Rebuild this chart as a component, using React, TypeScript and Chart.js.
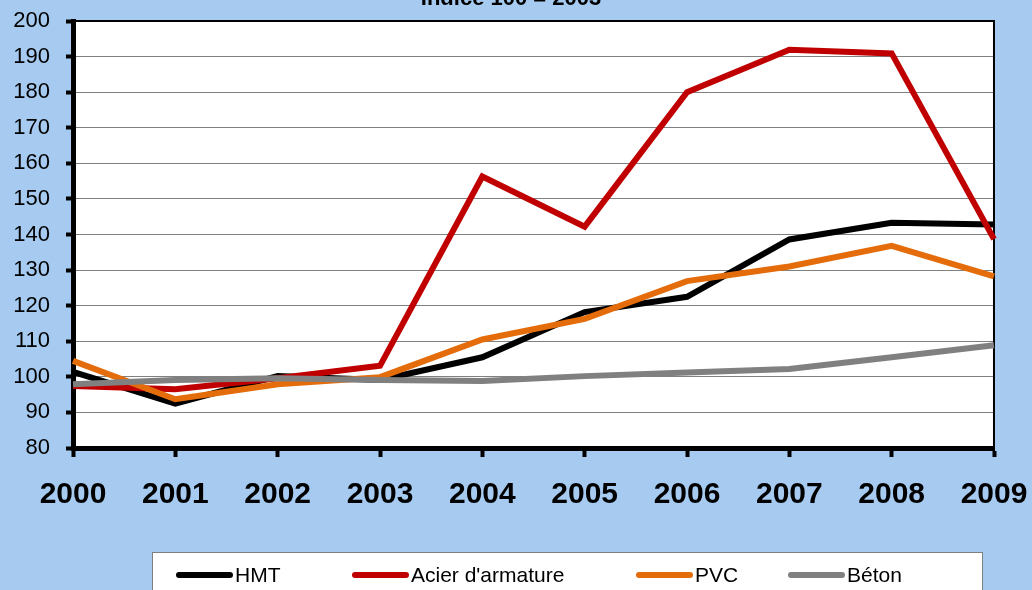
import React, { useEffect, useRef } from "react";
import { Chart, registerables } from "chart.js";

Chart.register(...registerables);

const titleText = "Indice 100 = 2003";
const years = ["2000", "2001", "2002", "2003", "2004", "2005", "2006", "2007", "2008", "2009"];
const hmt = [101.4, 92.5, 100.2, 99.1, 105.5, 118.2, 122.5, 138.6, 143.3, 142.8];
const acier = [97.4, 96.5, 99.6, 103.1, 156.3, 142.2, 180.0, 191.9, 190.9, 138.7];
const pvc = [104.5, 93.7, 97.9, 99.9, 110.5, 116.3, 126.9, 131.0, 136.8, 128.2];
const beton = [97.9, 99.1, 99.6, 99.1, 98.8, 100.2, 101.2, 102.2, 105.5, 108.9];
const seriesNames = ["HMT", "Acier d'armature", "PVC", "Béton"];
const seriesColors = ["#000000", "#C00000", "#E46C0A", "#808080"];
const yMin = 80;
const yMax = 200;
const yStep = 10;

const FONT = "'Liberation Sans', Arial, sans-serif";

export default function App() {
  const ref = useRef<HTMLCanvasElement | null>(null);

  useEffect(() => {
    const canvas = ref.current;
    if (!canvas) return;
    const values = [hmt, acier, pvc, beton];

    const framePlugin = {
      id: "frame",
      beforeDraw(chart: any) {
        const { ctx, chartArea: a } = chart;
        ctx.save();
        ctx.fillStyle = "#ffffff";
        ctx.fillRect(a.left, a.top, a.right - a.left, a.bottom - a.top);
        ctx.restore();
      },
      beforeDatasetsDraw(chart: any) {
        const { ctx, chartArea: a } = chart;
        ctx.save();
        ctx.strokeStyle = "#000000";
        ctx.lineWidth = 2;
        ctx.beginPath();
        ctx.moveTo(a.left, a.top);
        ctx.lineTo(a.right, a.top);
        ctx.lineTo(a.right, a.bottom);
        ctx.stroke();
        ctx.restore();
      },
      afterDraw(chart: any) {
        const { ctx } = chart;
        ctx.save();
        // title (cut off at top)
        ctx.fillStyle = "#000000";
        ctx.font = `bold 22px ${FONT}`;
        ctx.textAlign = "center";
        ctx.textBaseline = "alphabetic";
        ctx.fillText(titleText, 511, 5);
        // legend box
        ctx.fillStyle = "#ffffff";
        ctx.fillRect(152, 552, 830, 50);
        ctx.strokeStyle = "#7f7f7f";
        ctx.lineWidth = 1;
        ctx.strokeRect(152.5, 552.5, 830, 50);
        const starts = [176, 352, 636, 788];
        ctx.font = `21px ${FONT}`;
        ctx.textAlign = "left";
        ctx.textBaseline = "middle";
        chart.data.datasets.forEach((ds: any, i: number) => {
          const x = starts[i];
          ctx.strokeStyle = ds.borderColor;
          ctx.lineWidth = 6;
          ctx.lineCap = "round";
          ctx.beginPath();
          ctx.moveTo(x + 3, 575);
          ctx.lineTo(x + 54, 575);
          ctx.stroke();
          ctx.fillStyle = "#000000";
          ctx.fillText(ds.label, x + 59, 576);
        });
        ctx.restore();
      },
    };

    const chart = new Chart(canvas, {
      type: "line",
      data: {
        labels: years,
        datasets: seriesNames.map((name, i) => ({
          label: name,
          data: values[i],
          borderColor: seriesColors[i],
          backgroundColor: seriesColors[i],
          borderWidth: 6,
          pointRadius: 0,
          tension: 0,
          fill: false,
          order: 3 - i,
        })),
      },
      options: {
        responsive: false,
        animation: false,
        layout: { padding: { left: 0, right: 38, top: 21, bottom: 0 } },
        plugins: {
          legend: { display: false },
          title: { display: false },
          tooltip: { enabled: false },
        },
        scales: {
          x: {
            offset: false,
            afterFit(scale: any) {
              scale.height = 142;
              scale.paddingLeft = 0;
              scale.paddingRight = 0;
            },
            grid: {
              drawOnChartArea: false,
              drawTicks: true,
              tickLength: 9,
              tickColor: "#000000",
              tickWidth: 4,
            },
            border: { color: "#000000", width: 5 },
            ticks: {
              color: "#000000",
              font: { family: FONT, size: 30, weight: "bold" },
              padding: 20,
              maxRotation: 0,
              autoSkip: false,
            },
          },
          y: {
            min: yMin,
            max: yMax,
            afterFit(scale: any) {
              scale.width = 73;
              scale.paddingTop = 0;
              scale.paddingBottom = 0;
            },
            grid: {
              color: "#808080",
              lineWidth: 1,
              drawTicks: true,
              tickLength: 7,
              tickColor: "#000000",
              tickWidth: 4,
            },
            border: { color: "#000000", width: 5 },
            ticks: {
              stepSize: yStep,
              color: "#000000",
              font: { family: FONT, size: 22 },
              padding: 16,
            },
          },
        },
      },
      plugins: [framePlugin],
    } as any);

    return () => chart.destroy();
  }, []);

  return (
    <div
      style={{
        position: "absolute",
        left: 0,
        top: 0,
        width: 1032,
        height: 590,
        background: "#A6CAF0",
        overflow: "hidden",
      }}
    >
      <canvas ref={ref} width={1032} height={590} style={{ display: "block" }} />
    </div>
  );
}
